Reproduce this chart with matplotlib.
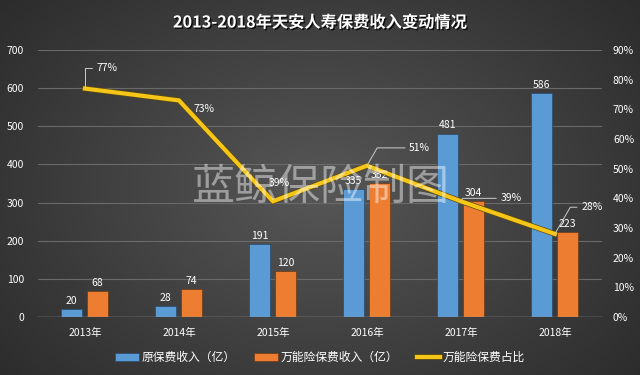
import matplotlib
matplotlib.use("Agg")
import matplotlib.pyplot as plt
import numpy as np
import matplotlib.patheffects as pe

plt.rcParams['font.family'] = ['Noto Sans CJK SC', 'DejaVu Sans']

categories = ['2013年', '2014年', '2015年', '2016年', '2017年', '2018年']
original_premium = [20, 28, 191, 335, 481, 586]
universal_premium = [68, 74, 120, 352, 304, 223]
universal_ratio = [77, 73, 39, 51, 39, 28]

fig = plt.figure(figsize=(6.4, 3.75), dpi=100)

# background radial gradient
bg = fig.add_axes([0, 0, 1, 1], zorder=-10)
yy, xx = np.mgrid[0:375, 0:640]
r = np.sqrt(((xx - 320) / 420.0) ** 2 + ((yy - 190) / 300.0) ** 2)
v = np.clip(0.34 - 0.17 * r, 0.15, 0.34)
img = np.dstack([v, v, v])
bg.imshow(img, aspect='auto', extent=[0, 1, 0, 1])
bg.axis('off')

ax = fig.add_axes([0.0594, 0.1547, 0.881, 0.712])
ax.set_facecolor('none')
x = np.arange(len(categories))
w = 0.225
b1 = ax.bar(x - 0.14, original_premium, w, color='#5b9bd5', edgecolor='#2a4a6a', linewidth=0.5, zorder=3,
            label='原保费收入（亿）')
b2 = ax.bar(x + 0.135, universal_premium, w, color='#ed7d31', edgecolor='#6a3a14', linewidth=0.5, zorder=3,
            label='万能险保费收入（亿）')
ax.set_ylim(0, 700)
ax.set_yticks(range(0, 701, 100))
ax.set_xlim(-0.5, len(categories) - 0.5)
ax.set_xticks(x)
ax.set_xticklabels(categories)
ax.grid(axis='y', color='#6a6a6a', linewidth=0.8, zorder=0)
for s in ax.spines.values():
    s.set_visible(False)
ax.axhline(0, color='#9a9a9a', linewidth=1, zorder=4)
ax.tick_params(colors='white', labelsize=7.5, length=0)
ax.tick_params(axis='x', pad=8)
ax.tick_params(axis='y', pad=10)

for i in range(len(categories)):
    ax.text(x[i] - 0.14, original_premium[i] + 8, str(original_premium[i]), ha='center', va='bottom',
            color='white', fontsize=7.5, zorder=6)
    ax.text(x[i] + 0.135, universal_premium[i] + 8, str(universal_premium[i]), ha='center', va='bottom',
            color='white', fontsize=7.5, zorder=6)

ax2 = ax.twinx()
ax2.set_ylim(0, 90)
ax2.set_yticks(range(0, 91, 10))
ax2.set_yticklabels([f'{t}%' for t in range(0, 91, 10)])
for s in ax2.spines.values():
    s.set_visible(False)
ax2.tick_params(colors='white', labelsize=7.5, length=0, pad=8)
line, = ax2.plot(x, universal_ratio, color='#f5c518', linewidth=3, zorder=5, label='万能险保费占比',
                 path_effects=[pe.Stroke(linewidth=4, foreground='#5a4a10'), pe.Normal()],
                 solid_joinstyle='miter')

# ratio labels: (dx, dy, leader, leader angle)
offsets = [(0.12, 7, True, 90), (0.15, -3, False, 0), (-0.05, 6, False, 0),
           (0.45, 6, True, 60), (0.42, 1, True, 60), (0.28, 9, True, 60)]
for i, (dx, dy, lead, ang) in enumerate(offsets):
    tx, ty = x[i] + dx, universal_ratio[i] + dy
    if lead:
        ax2.annotate(f'{universal_ratio[i]}%', xy=(x[i], universal_ratio[i]), xytext=(tx, ty),
                     color='white', fontsize=7.5, ha='left', va='center', zorder=7,
                     arrowprops=dict(arrowstyle='-', color='#cccccc', lw=0.7,
                                     connectionstyle=f'angle,angleA=0,angleB={ang},rad=0',
                                     shrinkA=1, shrinkB=0))
    else:
        ax2.text(tx, ty, f'{universal_ratio[i]}%', color='white', fontsize=7.5, ha='left', va='center', zorder=7)

fig.text(0.5, 0.94, '2013-2018年天安人寿保费收入变动情况', ha='center', va='center', color='white',
         fontsize=11.7, fontweight='bold',
         path_effects=[pe.withSimplePatchShadow(offset=(1, -1), shadow_rgbFace='black', alpha=0.8)])

fig.text(0.5, 0.5, '蓝鲸保险制图', ha='center', va='center', color='white', alpha=0.45,
         fontsize=31, zorder=20)

handles = [b1, b2, line]
leg = fig.legend(handles, [h.get_label() for h in handles], loc='center', bbox_to_anchor=(0.5, 0.047),
                 ncol=3, frameon=False, fontsize=8.5, labelcolor='white', handlelength=2.0,
                 handleheight=0.7, handletextpad=0.2, columnspacing=1.6)

fig.savefig('out.png', dpi=100)
